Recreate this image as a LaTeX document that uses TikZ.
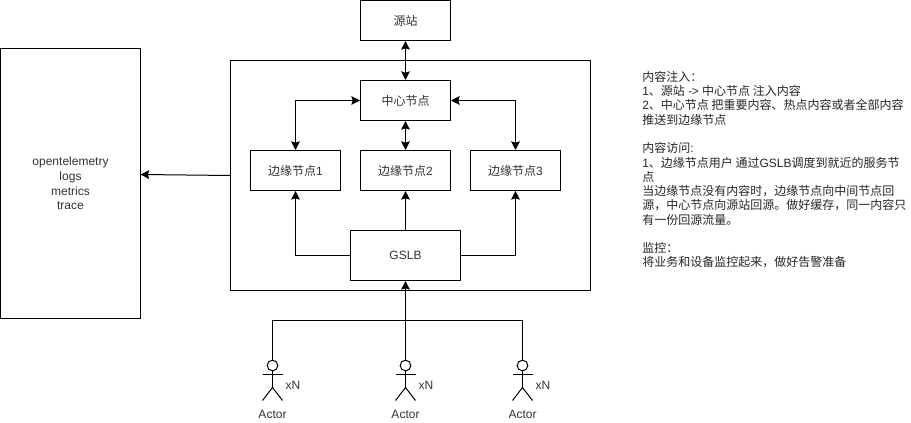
\documentclass[tikz,border=0pt]{standalone}
\usepackage{fontspec}
\setmainfont{Liberation Sans}
\newfontfamily\cjk{Noto Sans CJK SC}
\newcommand{\zh}[1]{{\cjk #1}}
\usetikzlibrary{arrows.meta,calc}
\tikzset{
  box/.style={draw=black,line width=0.75pt,fill=white,minimum width=67.5pt,minimum height=30pt,inner sep=0pt,font=\fontsize{9}{11}\selectfont,text=black!80},
  conn/.style={line width=0.75pt,draw=black},
  tip/.style={-{Stealth[length=6.5pt,width=6.5pt,inset=1pt]}},
  tips/.style={{Stealth[length=6.5pt,width=6.5pt,inset=1pt]}-{Stealth[length=6.5pt,width=6.5pt,inset=1pt]}},
  head/.style={circle,draw=black,line width=0.75pt,minimum size=8pt,inner sep=0pt},
  lbl/.style={font=\fontsize{9}{11}\selectfont,text=black!80,inner sep=0pt},
}
\begin{document}
\begin{tikzpicture}[x=0.75pt,y=-0.75pt]
\useasboundingbox[fill=white] (0,0) rectangle (911,423);
% frames
\node[box,minimum width=270pt,minimum height=172.5pt] (big) at (410.5,175.5) {};
\node[box,minimum width=105pt,minimum height=202.5pt,align=center,font=\fontsize{9}{10.9}\selectfont] (mon) at (70.5,183.5) {opentelemetry\\logs\\metrics\\trace};
% nodes
\node[box] (src) at (405.5,20.5) {\zh{源站}};
\node[box] (ctr) at (405.5,100.5) {\zh{中心节点}};
\node[box] (e1) at (295.5,170.5) {\zh{边缘节点}1};
\node[box] (e2) at (405.5,170.5) {\zh{边缘节点}2};
\node[box] (e3) at (515.5,170.5) {\zh{边缘节点}3};
\node[box,minimum width=82.5pt,minimum height=37.5pt] (g) at (405.5,255.5) {GSLB};
% connectors
\draw[conn,tips] (src.south) -- (ctr.north);
\draw[conn,tips] (ctr.south) -- (e2.north);
\draw[conn,tips] (ctr.west) -| (e1.north);
\draw[conn,tips] (ctr.east) -| (e3.north);
\draw[conn,tip] (g.north) -- (e2.south);
\draw[conn,tip] (g.west) -| (e1.south);
\draw[conn,tip] (g.east) -| (e3.south);
\coordinate (ls) at (230.5,175.5);
\coordinate (le) at (140.5,174.5);
\draw[conn,tip] (ls) -- (le);
% actors
\foreach \n/\x/\t in {a/272.5/a,b/405.5/b,c/522.5/c}{
  \node[head] (h\n) at (\x,365.5) {};
  \coordinate (arm\n) at (\x,374.5);
  \coordinate (hip\n) at (\x,387.5);
  \draw[conn] (h\n.south) -- (hip\n);
  \draw[conn] ($(arm\n)+(-10,0)$) -- ($(arm\n)+(10,0)$);
  \draw[conn] ($(hip\n)+(-10,13)$) -- (hip\n) -- ($(hip\n)+(10,13)$);
  \node[lbl] (t\n) at (\x,414) {Actor};
  \node[lbl] (x\n) at (\x+20.5,385) {xN};
}
\coordinate (j) at (405.5,320.5);
\draw[conn,tip] (hb.north) -- (g.south);
\draw[conn] (ha.north) |- (j);
\draw[conn] (hc.north) |- (j);
% notes
\node[anchor=north west,align=left,inner sep=0pt,text=black!85,font=\fontsize{9}{10.7}\selectfont] (note) at (642,71) {%
\zh{内容注入：}\\
1\zh{、源站} -\kern-0.3pt> \zh{中心节点 注入内容}\\
2\zh{、中心节点 把重要内容、热点内容或者全部内容}\\
\zh{推送到边缘节点}\\
\mbox{}\\
\zh{内容访问}:\\
1\zh{、边缘节点用户 通过}GSLB\zh{调度到就近的服务节}\\
\zh{点}\\
\zh{当边缘节点没有内容时，边缘节点向中间节点回}\\
\zh{源，中心节点向源站回源。做好缓存，同一内容只}\\
\zh{有一份回源流量。}\\
\mbox{}\\
\zh{监控：}\\
\zh{将业务和设备监控起来，做好告警准备}};
\end{tikzpicture}
\end{document}
